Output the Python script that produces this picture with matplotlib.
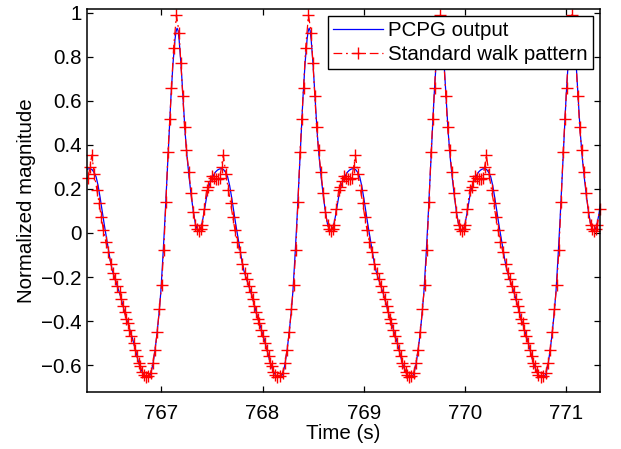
import numpy as np
import matplotlib
matplotlib.use("Agg")
import matplotlib.pyplot as plt

plt.rcParams["font.family"] = ["Liberation Sans", "DejaVu Sans"]

# time of the big peak of each gait cycle (s)
cycle_peaks = [765.855, 767.155, 768.46, 769.755, 771.06]

# standard walk pattern, one cycle; time relative to the cycle peak (s)
std_phase = [-0.285, -0.262, -0.240, -0.218, -0.196, -0.175, -0.153, -0.131,
             -0.110, -0.089, -0.071, -0.055, -0.034, -0.006, 0.020, 0.038,
             0.057, 0.074, 0.093, 0.116, 0.140, 0.160, 0.182, 0.200, 0.216,
             0.232, 0.250, 0.270, 0.292, 0.310, 0.328, 0.346, 0.364, 0.382,
             0.400, 0.420, 0.440, 0.457, 0.482, 0.508, 0.530, 0.550, 0.572,
             0.596, 0.619, 0.646, 0.668, 0.690, 0.710, 0.733, 0.749, 0.765,
             0.782, 0.797, 0.814, 0.830, 0.846, 0.872, 0.889, 0.905, 0.921,
             0.938, 0.953, 0.970, 0.992]
std_value = [-0.650, -0.635, -0.590, -0.530, -0.450, -0.345, -0.235, -0.075,
             0.140, 0.370, 0.520, 0.660, 0.840, 0.990, 0.910, 0.770,
             0.620, 0.480, 0.376, 0.278, 0.180, 0.097, 0.036, 0.017, 0.008,
             0.020, 0.036, 0.110, 0.195, 0.210, 0.235, 0.260, 0.250, 0.244,
             0.244, 0.250, 0.300, 0.354, 0.270, 0.195, 0.135, 0.074, 0.014,
             -0.040, -0.085, -0.140, -0.180, -0.210, -0.240, -0.270, -0.300, -0.330,
             -0.360, -0.390, -0.410, -0.440, -0.470, -0.500, -0.530, -0.560, -0.590,
             -0.605, -0.630, -0.645, -0.655]

# PCPG output, one cycle
pcpg_phase = [-0.30, -0.28, -0.26, -0.24, -0.22, -0.20, -0.18, -0.16, -0.14,
              -0.12, -0.10, -0.08, -0.06, -0.04, -0.02, -0.01, 0.00, 0.01,
              0.02, 0.04, 0.06, 0.08, 0.10, 0.12, 0.14, 0.16, 0.18, 0.20,
              0.22, 0.24, 0.26, 0.28, 0.30, 0.32, 0.34, 0.36, 0.38, 0.40,
              0.42, 0.44, 0.46, 0.48, 0.50, 0.52, 0.54, 0.56, 0.58, 0.60,
              0.62, 0.64, 0.66, 0.68, 0.70, 0.72, 0.74, 0.76, 0.78, 0.80,
              0.82, 0.84, 0.86, 0.88, 0.90, 0.92, 0.94, 0.96, 0.98]
pcpg_value = [-0.650, -0.655, -0.640, -0.600, -0.540, -0.465, -0.375, -0.265, -0.110,
              0.060, 0.250, 0.440, 0.620, 0.770, 0.880, 0.915, 0.930, 0.920,
              0.880, 0.760, 0.610, 0.455, 0.340, 0.250, 0.170, 0.100, 0.045, 0.015,
              0.010, 0.030, 0.075, 0.130, 0.185, 0.220, 0.245, 0.262, 0.277, 0.286,
              0.291, 0.292, 0.288, 0.275, 0.255, 0.215, 0.160, 0.100, 0.040, -0.015,
              -0.070, -0.125, -0.170, -0.200, -0.228, -0.255, -0.285, -0.320, -0.356, -0.390,
              -0.418, -0.450, -0.480, -0.515, -0.552, -0.588, -0.615, -0.635, -0.650]

x_ticks = [767, 768, 769, 770, 771]
y_ticks = [-0.6, -0.4, -0.2, 0, 0.2, 0.4, 0.6, 0.8, 1]
y_tick_labels = ["\u22120.6", "\u22120.4", "\u22120.2", "0", "0.2", "0.4", "0.6", "0.8", "1"]

x_range = (766.27, 771.33)
y_range = (-0.72, 1.016)

t_std = np.concatenate([p + np.array(std_phase) for p in cycle_peaks])
y_std = np.tile(std_value, len(cycle_peaks))
t_pcpg = np.concatenate([p + np.array(pcpg_phase) for p in cycle_peaks])
y_pcpg = np.tile(pcpg_value, len(cycle_peaks))

# markers are not clipped in the original, so keep only points inside the x range
inside = (t_std >= x_range[0]) & (t_std <= x_range[1])

fig = plt.figure(figsize=(6.21, 4.49), dpi=100)
ax = fig.add_axes([0.1409, 0.128, 0.8245, 0.8513])

ax.plot(t_pcpg, y_pcpg, color="#0000ff", lw=0.9, label="PCPG output")
ax.plot(t_std[inside], y_std[inside], color="#ff0000", lw=0.9,
        linestyle=(0, (7, 3, 1.5, 3)), marker="+", ms=8, mew=1.0,
        label="Standard walk pattern", clip_on=False)

ax.set_xlim(*x_range)
ax.set_ylim(*y_range)
ax.set_xticks(x_ticks)
ax.set_xticklabels([str(x) for x in x_ticks])
ax.set_yticks(y_ticks)
ax.set_yticklabels(y_tick_labels)

for s in ax.spines.values():
    s.set_linewidth(1.1)
    s.set_color("black")
ax.tick_params(direction="in", top=True, right=True, length=4.5, width=0.9,
               labelsize=14.8)
ax.tick_params(axis="x", pad=9)
ax.tick_params(axis="y", pad=4)

ax.set_xlabel("Time (s)", fontsize=14.8, labelpad=1)
ax.set_ylabel("Normalized magnitude", fontsize=14.8, labelpad=4)

leg = ax.legend(loc="upper right", fontsize=14.8, fancybox=False, framealpha=1,
                edgecolor="black", borderpad=0.25, labelspacing=0.25,
                handlelength=2.4, handletextpad=0.25, borderaxespad=0.33,
                numpoints=1)
leg.get_frame().set_linewidth(1.0)

fig.savefig("out.png", dpi=100)
